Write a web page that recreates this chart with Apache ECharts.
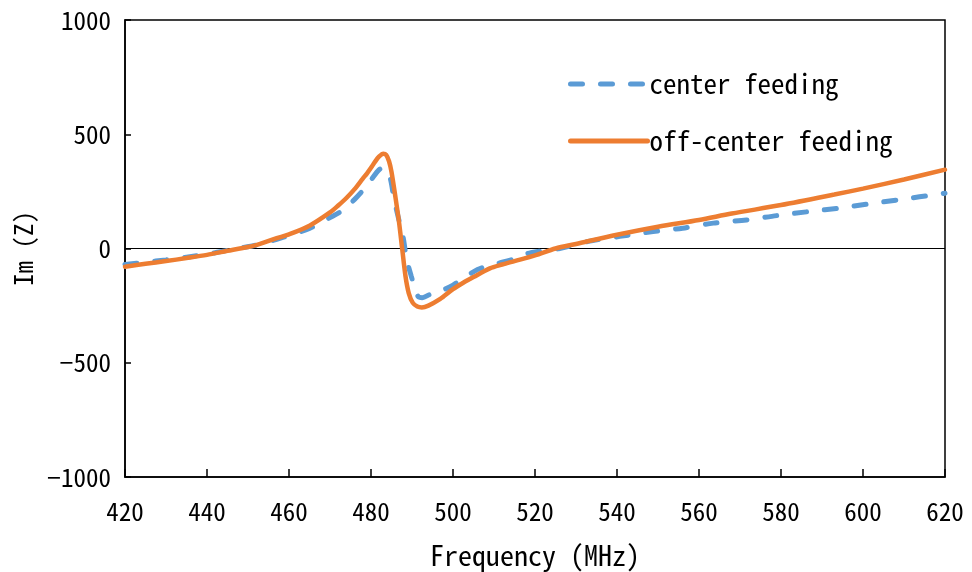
<!DOCTYPE html>
<html>
<head>
<meta charset="utf-8">
<script src="https://cdn.jsdelivr.net/npm/echarts@6/dist/echarts.min.js"></script>
<style>
html,body{margin:0;padding:0;background:#fff;}
#chart{width:972px;height:572px;}
</style>
</head>
<body>
<div id="chart"></div>
<script>
// Frequencies (MHz) and Im(Z) values
var centerFreq = [420,425,430,435,440,445,447.5,452,457,465,470,473,476,478,480,482,483,484,484.8,485.6,486.6,487.8,488.7,489.8,490.7,491.5,492.5,494.5,496.8,500,506,510,515,519,526,533,540.7,548.8,556,563.5,571.6,579,587,594.4,601,609,620];
var centerIm   = [-70,-60,-50,-38,-25,-8,0,15,40,88,135,166,215,254,300,345,352,342,300,220,140,53,-48,-120,-171,-210,-215,-200,-188,-160,-92,-70,-45,-18,0,31,53,74,89,111,125,144,162,177,194,214,242];

var offFreq = [420,425,430,435,440,445,448,452,457,460,465,470,472,474,476,478,479,480,481,482,483,483.7,484.4,485,486,486.8,487.6,488.4,489.2,490.2,491.3,492.4,494,496.8,500,502.5,505,509,512,515,520,525,530,540,550,560,568,580,593,600,610,620];
var offIm   = [-80,-67,-55,-42,-28,-10,0,15,45,62,100,158,188,221,260,306,328,353,380,403,415,410,382,335,220,120,0,-120,-195,-238,-254,-258,-250,-222,-178,-150,-125,-87,-70,-55,-30,0,20,60,95,125,153,190,236,262,302,345];

var seriesNames = ['center feeding','off-center feeding'];
var xTicks = [420,440,460,480,500,520,540,560,580,600,620];
var yTicks = [-1000,-500,0,500,1000];

function pairs(xs, ys){ return xs.map(function(x,i){ return [x, ys[i]]; }); }

var FONT = '"Noto Sans Mono CJK JP", "Noto Sans CJK JP", monospace';
var chart = echarts.init(document.getElementById('chart'), null, {renderer:'canvas'});
chart.setOption({
  backgroundColor:'#fff',
  animation:false,
  grid:{left:125, right:27, top:20, bottom:95, containLabel:false, outerBoundsMode:'none',
    show:true, borderColor:'#000', borderWidth:1.5, backgroundColor:'transparent'},
  legend:{
    orient:'vertical', left:563, top:64,
    itemWidth:77, itemHeight:24, itemGap:27,
    itemStyle:{color:'transparent', borderColor:'transparent', borderWidth:0},
    lineStyle:{width:5},
    textStyle:{fontFamily:FONT, fontSize:27, lineHeight:30, color:'#000', padding:[0,0,0,-3]},
    data:seriesNames
  },
  xAxis:{
    type:'value', min:xTicks[0], max:xTicks[xTicks.length-1], interval:20,
    name:'Frequency (MHz)', nameLocation:'middle', nameGap:64,
    nameTextStyle:{fontFamily:FONT, fontSize:28, color:'#000'},
    axisLine:{onZero:false, lineStyle:{color:'#000', width:1.5}},
    axisTick:{inside:true, length:8, lineStyle:{color:'#000', width:1.5}},
    axisLabel:{fontFamily:FONT, fontSize:25, color:'#000', margin:22},
    splitLine:{show:false}
  },
  yAxis:{
    type:'value', min:yTicks[0], max:yTicks[yTicks.length-1], interval:500,
    name:'Im (Z)', nameLocation:'middle', nameGap:57,
    nameTextStyle:{fontFamily:FONT, fontSize:25, color:'#000'},
    axisLine:{lineStyle:{color:'#000', width:1.5}},
    axisTick:{inside:true, length:6, lineStyle:{color:'#000', width:1.5}},
    axisLabel:{fontFamily:FONT, fontSize:25, color:'#000', margin:14,
      formatter:function(v){ return String(v).replace('-', '\u2212'); }},
    splitLine:{show:false}
  },
  series:[
    {
      name:seriesNames[0], type:'line', data:pairs(centerFreq, centerIm),
      smooth:0.3, symbol:'none', showSymbol:false,
      lineStyle:{color:'#5B9BD5', width:5, type:[12,18], cap:'round'},
      itemStyle:{color:'#5B9BD5'},
      z:2
    },
    {
      name:seriesNames[1], type:'line', data:pairs(offFreq, offIm),
      smooth:0.3, symbol:'none', showSymbol:false,
      lineStyle:{color:'#ED7D31', width:4.5, cap:'round'},
      itemStyle:{color:'#ED7D31'},
      z:3,
      markLine:{silent:true, symbol:'none', label:{show:false},
        lineStyle:{color:'#000', width:1, type:'solid'},
        data:[{yAxis:0}], z:1}
    }
  ]
});
</script>
</body>
</html>
